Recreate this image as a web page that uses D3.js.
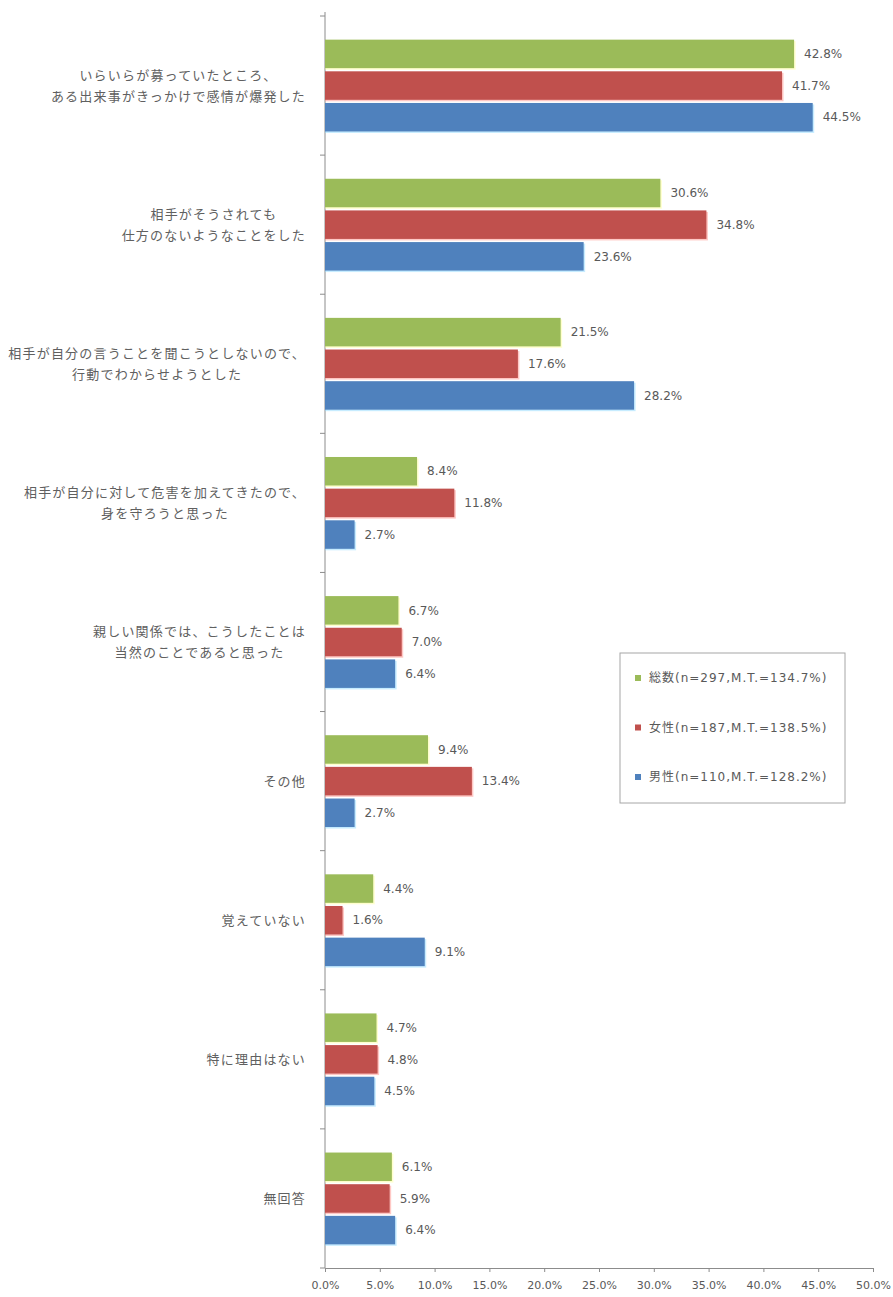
<!DOCTYPE html>
<html>
<head>
<meta charset="utf-8">
<script src="https://cdn.jsdelivr.net/npm/d3@7"></script>
<style>
  body { margin: 0; background: #fff; }
  svg { display: block; font-family: "Noto Sans CJK JP", "Noto Sans", sans-serif; }
</style>
</head>
<body>
<svg id="chart" width="893" height="1297"></svg>
<script>
// categories (multi-line labels split by \n)
const categories = [
  "いらいらが募っていたところ、\nある出来事がきっかけで感情が爆発した",
  "相手がそうされても\n仕方のないようなことをした",
  "相手が自分の言うことを聞こうとしないので、\n行動でわからせようとした",
  "相手が自分に対して危害を加えてきたので、\n身を守ろうと思った",
  "親しい関係では、こうしたことは\n当然のことであると思った",
  "その他",
  "覚えていない",
  "特に理由はない",
  "無回答"
];
const seriesNames = ["総数(n=297,M.T.=134.7%)", "女性(n=187,M.T.=138.5%)", "男性(n=110,M.T.=128.2%)"];
const totalValues = [42.8, 30.6, 21.5, 8.4, 6.7, 9.4, 4.4, 4.7, 6.1];
const femaleValues = [41.7, 34.8, 17.6, 11.8, 7.0, 13.4, 1.6, 4.8, 5.9];
const maleValues = [44.5, 23.6, 28.2, 2.7, 6.4, 2.7, 9.1, 4.5, 6.4];
const xTicks = [0, 5, 10, 15, 20, 25, 30, 35, 40, 45, 50];

const colors = ["#9bbb59", "#c0504d", "#4f81bd"];
const allValues = [totalValues, femaleValues, maleValues];
const numFont = "'DejaVu Sans', sans-serif";

const svg = d3.select("#chart");

const x = d3.scaleLinear().domain([0, 50]).range([325, 873]);
const y = d3.scaleBand().domain(categories).range([16, 1268])
    .paddingInner(0.34).paddingOuter(0.17);
const ySub = d3.scaleBand().domain(d3.range(3)).range([0, y.bandwidth()]).paddingInner(0.1);

// x axis
const xAxis = d3.axisBottom(x)
    .tickValues(xTicks)
    .tickSize(4)
    .tickFormat(d => d.toFixed(1) + "%");
const xg = svg.append("g")
    .attr("transform", "translate(0,1268)")
    .call(xAxis);
xg.select(".domain").attr("stroke", "#8c8c8c");
xg.selectAll(".tick line").attr("stroke", "#8c8c8c");
xg.selectAll(".tick text")
    .attr("fill", "#595959")
    .attr("font-family", numFont)
    .attr("font-size", 11)
    .attr("y", 14)
    .attr("dy", "0.6em");

// y axis line with ticks at band boundaries
const step = y.step();
const boundaries = d3.range(categories.length + 1).map(i => 16 + i * step);
svg.append("line")
    .attr("x1", 325).attr("x2", 325)
    .attr("y1", 12).attr("y2", 1268)
    .attr("stroke", "#8c8c8c");
svg.selectAll(".ytick")
    .data(boundaries)
    .join("line")
    .attr("class", "ytick")
    .attr("x1", 320).attr("x2", 325)
    .attr("y1", d => d).attr("y2", d => d)
    .attr("stroke", "#8c8c8c");

// bars
const groups = svg.selectAll(".grp")
    .data(categories)
    .join("g")
    .attr("class", "grp")
    .attr("transform", d => `translate(0,${y(d)})`);

groups.each(function (cat, ci) {
  const g = d3.select(this);
  allValues.forEach((vals, si) => {
    const v = vals[ci];
    // faint shadow under bar
    g.append("rect")
      .attr("x", x(0))
      .attr("y", ySub(si) + 1.5)
      .attr("width", x(v) - x(0) + 1.5)
      .attr("height", ySub.bandwidth())
      .attr("fill", d3.color(colors[si]).brighter(1.4))
      .attr("opacity", 0.45);
    g.append("rect")
      .attr("x", x(0))
      .attr("y", ySub(si))
      .attr("width", x(v) - x(0))
      .attr("height", ySub.bandwidth())
      .attr("fill", colors[si]);
    g.append("text")
      .attr("x", x(v) + 10)
      .attr("y", ySub(si) + ySub.bandwidth() / 2)
      .attr("dy", "0.35em")
      .attr("font-family", numFont)
      .attr("font-size", 12)
      .attr("fill", "#595959")
      .text(v.toFixed(1) + "%");
  });
});

// category labels: block right-aligned near the axis, lines centered within block
svg.selectAll(".catlabel")
    .data(categories)
    .join("text")
    .attr("class", "catlabel")
    .attr("font-size", 13)
    .attr("letter-spacing", 1.2)
    .attr("fill", "#606060")
    .each(function (d) {
      const t = d3.select(this);
      const lines = d.split("\n");
      const cy = y(d) + y.bandwidth() / 2;
      lines.forEach((ln, i) => {
        t.append("tspan")
          .attr("y", cy + (i - (lines.length - 1) / 2) * 21)
          .attr("dy", "0.35em")
          .attr("text-anchor", "middle")
          .text(ln);
      });
    })
    .each(function () {
      const t = d3.select(this);
      const tsp = t.selectAll("tspan").nodes();
      const maxW = d3.max(tsp, n => n.getComputedTextLength());
      const cx = 306 - maxW / 2;
      t.selectAll("tspan").attr("x", cx);
    });

// legend
const legend = svg.append("g").attr("transform", "translate(620,653)");
legend.append("rect")
    .attr("width", 225).attr("height", 150)
    .attr("fill", "#fff")
    .attr("stroke", "#a6a6a6");
seriesNames.forEach((name, i) => {
  const ly = 25 + i * 49.5;
  legend.append("rect")
    .attr("x", 15).attr("y", ly - 3)
    .attr("width", 6).attr("height", 6)
    .attr("fill", colors[i]);
  legend.append("text")
    .attr("x", 29).attr("y", ly)
    .attr("dy", "0.35em")
    .attr("font-size", 12)
    .attr("letter-spacing", 1)
    .attr("fill", "#595959")
    .text(name)
    .attr("font-family", "'DejaVu Sans', 'Noto Sans CJK JP', sans-serif");
});
</script>
</body>
</html>
